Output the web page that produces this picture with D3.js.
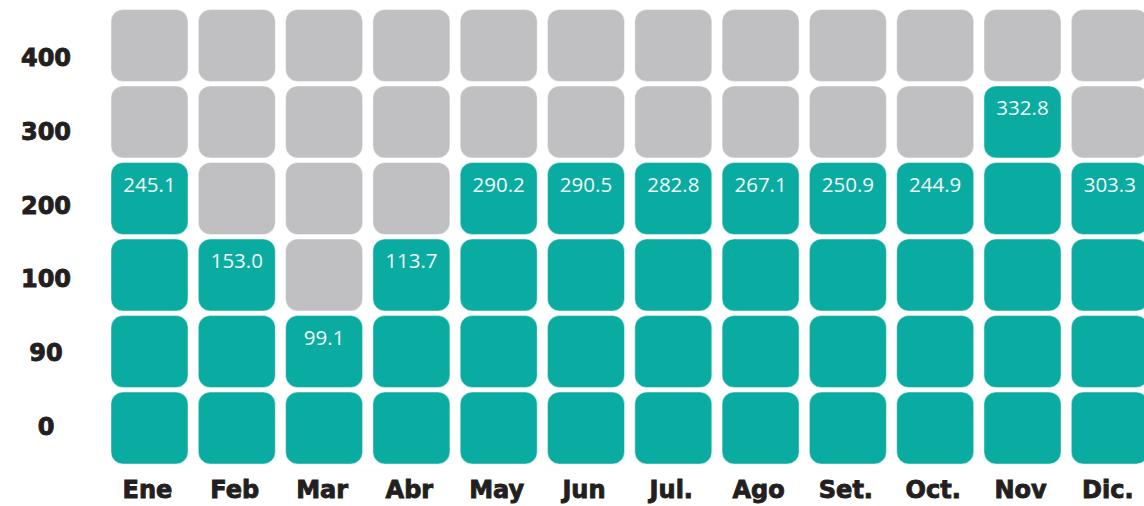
<!DOCTYPE html>
<html>
<head>
<meta charset="utf-8">
<script src="https://cdn.jsdelivr.net/npm/d3@7/dist/d3.min.js"></script>
<style>
  html, body { margin: 0; padding: 0; background: #fff; }
  svg { display: block; }
</style>
</head>
<body>
<svg id="chart" width="1144" height="506"></svg>
<script>
// Monthly totals, one column per month
const months = ["Ene", "Feb", "Mar", "Abr", "May", "Jun", "Jul.", "Ago", "Set.", "Oct.", "Nov", "Dic."];
const values = [245.1, 153.0, 99.1, 113.7, 290.2, 290.5, 282.8, 267.1, 250.9, 244.9, 332.8, 303.3];
// Number of filled cells in each month's column, counted from the bottom
const filledCells = [4, 3, 2, 3, 4, 4, 4, 4, 4, 4, 5, 4];
// Row labels, bottom to top
const levels = ["0", "90", "100", "200", "300", "400"];

const svg = d3.select("#chart");

const x = d3.scaleBand()
  .domain(months)
  .range([111, 1148.3])
  .paddingInner(0.118)
  .paddingOuter(0);

const y = d3.scaleBand()
  .domain(levels.slice().reverse())
  .range([9.5, 464])
  .paddingInner(0.06)
  .paddingOuter(0);

// baselines of the row labels
const yLabel = d3.scalePoint()
  .domain(levels.slice().reverse())
  .range([66, 435]);

const teal = "#0aaba1";
const grey = "#c0c0c2";

// one record per grid cell
const cells = [];
months.forEach((m, i) => {
  levels.forEach((lv, j) => {
    cells.push({ month: m, level: lv, filled: j < filledCells[i], top: j === filledCells[i] - 1, value: values[i] });
  });
});

svg.append("g")
  .selectAll("rect")
  .data(cells)
  .join("rect")
  .attr("x", d => x(d.month))
  .attr("y", d => y(d.level))
  .attr("width", x.bandwidth())
  .attr("height", y.bandwidth())
  .attr("rx", 12)
  .attr("ry", 12)
  .attr("fill", d => d.filled ? teal : grey)
  .attr("stroke", "#ffffff")
  .attr("stroke-opacity", 0.45)
  .attr("stroke-width", 1);

// value label inside the highest filled cell
svg.append("g")
  .selectAll("text")
  .data(cells.filter(d => d.top))
  .join("text")
  .attr("x", d => x(d.month) + x.bandwidth() / 2)
  .attr("y", d => y(d.level) + 29)
  .attr("text-anchor", "middle")
  .attr("fill", "#f2fbfa")
  .style("font-family", "'Open Sans', sans-serif")
  .style("font-size", "20.5px")
  .text(d => d3.format(".1f")(d.value));

// row labels
svg.append("g")
  .selectAll("text")
  .data(levels)
  .join("text")
  .attr("x", 46)
  .attr("y", d => yLabel(d))
  .attr("text-anchor", "middle")
  .attr("fill", "#231f20")
  .attr("stroke", "#231f20")
  .attr("stroke-width", 0.9)
  .style("font-family", "'DejaVu Sans', sans-serif")
  .style("font-weight", "bold")
  .style("font-size", "24px")
  .text(d => d);

// month labels
svg.append("g")
  .selectAll("text")
  .data(months)
  .join("text")
  .attr("x", d => x(d) + x.bandwidth() / 2 - 2)
  .attr("y", 498)
  .attr("text-anchor", "middle")
  .attr("fill", "#231f20")
  .attr("stroke", "#231f20")
  .attr("stroke-width", 0.9)
  .style("font-family", "'DejaVu Sans', sans-serif")
  .style("font-weight", "bold")
  .style("font-size", "24px")
  .text(d => d);
</script>
</body>
</html>
